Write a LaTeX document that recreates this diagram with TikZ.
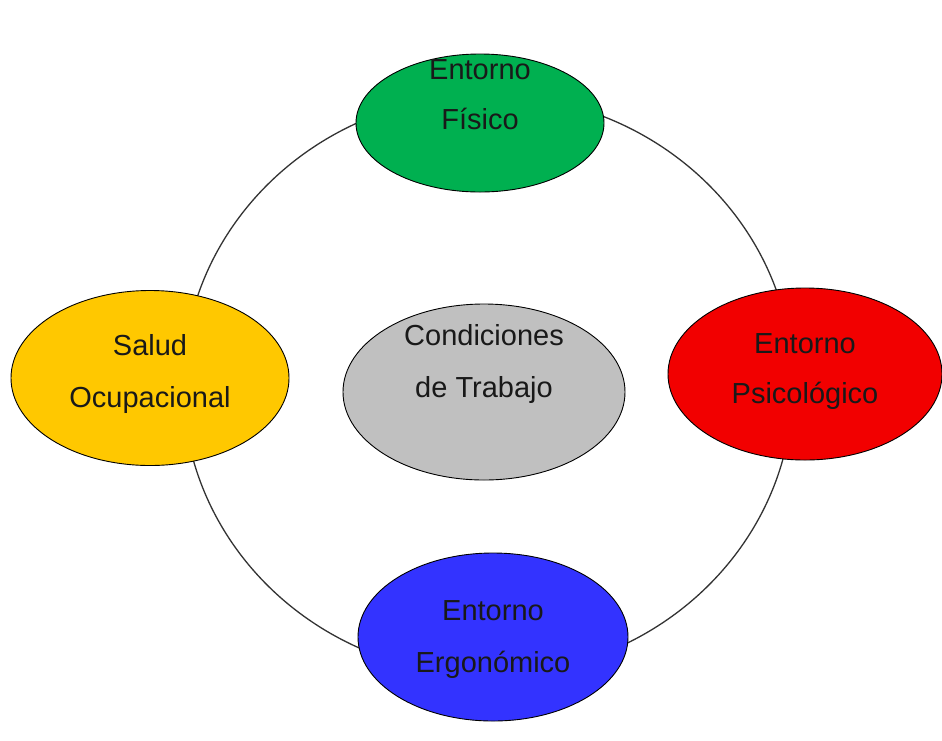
\documentclass[tikz,border=0pt]{standalone}
\usepackage{fontspec}
\setmainfont{Liberation Sans}
\usetikzlibrary{shapes.geometric}
\definecolor{cgreen}{HTML}{00B050}
\definecolor{cyellow}{HTML}{FFC800}
\definecolor{cgray}{HTML}{C0C0C0}
\definecolor{cred}{HTML}{F20000}
\definecolor{cblue}{HTML}{3333FF}
\tikzset{
  bubble/.style={ellipse, draw=black, line width=0.9pt, inner sep=0pt},
  txt/.style={anchor=base, inner sep=0pt, text=black!90, font=\fontsize{29}{50}\selectfont},
  ring/.style={draw=black!80, line width=1.3pt}
}
\begin{document}
\begin{tikzpicture}[x=1pt,y=-1pt]
\useasboundingbox (0,0) rectangle (942,740);
\fill[white] (0,0) rectangle (942,740);
\coordinate (rc) at (488,385);
\draw[ring] (rc) ellipse [x radius=305, y radius=290];
\node[bubble, fill=cgreen, minimum width=248pt, minimum height=138pt] (fis) at (480,123) {};
\node[bubble, fill=cyellow, minimum width=278pt, minimum height=175pt] (sal) at (150,378) {};
\node[bubble, fill=cgray, minimum width=282pt, minimum height=176pt] (con) at (484,392) {};
\node[bubble, fill=cred, minimum width=274pt, minimum height=172pt] (psi) at (805,374) {};
\node[bubble, fill=cblue, minimum width=270pt, minimum height=168pt] (erg) at (493,637) {};
\node[txt] (fis1) at (480,79) {Entorno};
\node[txt] (fis2) at (480,129) {Físico};
\node[txt] (sal1) at (150,355) {Salud};
\node[txt] (sal2) at (150,407) {Ocupacional};
\node[txt] (con1) at (484,345) {Condiciones};
\node[txt] (con2) at (484,397) {de Trabajo};
\node[txt] (psi1) at (805,353) {Entorno};
\node[txt] (psi2) at (805,403) {Psicológico};
\node[txt] (erg1) at (493,620) {Entorno};
\node[txt] (erg2) at (493,672) {Ergonómico};
\end{tikzpicture}
\end{document}
